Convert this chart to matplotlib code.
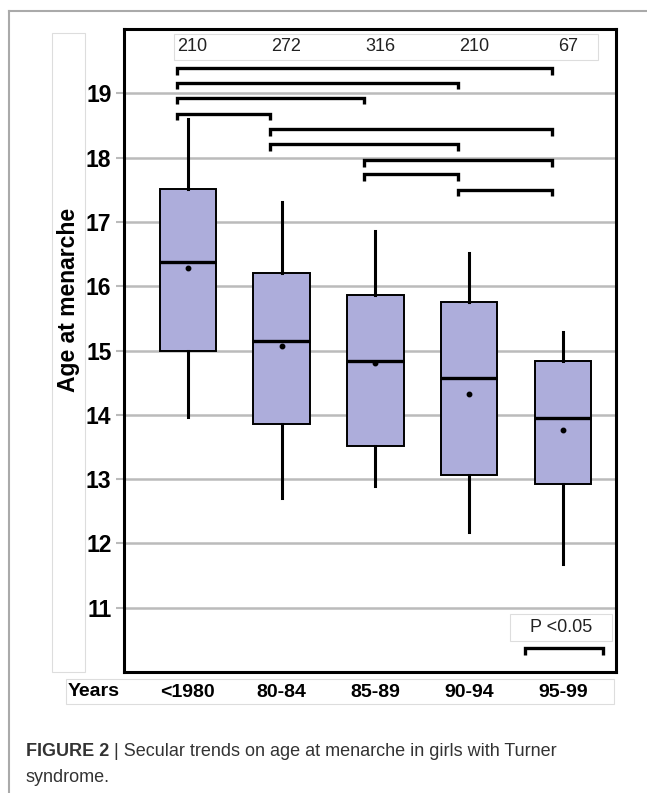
import matplotlib.pyplot as plt
from matplotlib.patches import Rectangle
from matplotlib.lines import Line2D

plt.rcParams["font.family"] = ["Liberation Sans", "DejaVu Sans"]

# data
groups = ["<1980", "80-84", "85-89", "90-94", "95-99"]
counts = [210, 272, 316, 210, 67]
whisker_low = [13.96, 12.70, 12.89, 12.18, 11.68]
q1 = [14.99, 13.85, 13.52, 13.07, 12.92]
medians = [16.38, 15.14, 14.84, 14.58, 13.95]
means = [16.29, 15.07, 14.81, 14.32, 13.76]
q3 = [17.51, 16.21, 15.87, 15.75, 14.83]
whisker_high = [18.60, 17.31, 16.86, 16.51, 15.28]

# significant pairs (1-based group index) and bracket heights
bracket_pairs = [(1, 5), (1, 4), (1, 3), (1, 2), (2, 5), (2, 4), (3, 5), (3, 4), (4, 5)]
bracket_levels = [19.39, 19.16, 18.93, 18.68, 18.44, 18.21, 17.96, 17.74, 17.50]
yticks = [11, 12, 13, 14, 15, 16, 17, 18, 19]

W, H = 647, 793
fig = plt.figure(figsize=(W / 100, H / 100), dpi=100)


def fx(px):
    return px / W


def fy(py):
    return 1 - py / H


ax = fig.add_axes([fx(124), fy(672), fx(616) - fx(124), fy(29) - fy(672)])

positions = list(range(1, len(groups) + 1))
stats = []
for i in range(len(groups)):
    stats.append({
        "whislo": whisker_low[i], "q1": q1[i], "med": medians[i],
        "q3": q3[i], "whishi": whisker_high[i], "mean": means[i],
        "fliers": [],
    })

ax.bxp(
    stats, positions=positions, widths=0.6, patch_artist=True,
    showmeans=True, showcaps=False,
    boxprops=dict(facecolor="#ADADDB", edgecolor="black", linewidth=1.4),
    medianprops=dict(color="black", linewidth=2.4),
    whiskerprops=dict(color="black", linewidth=2.2),
    meanprops=dict(marker="o", markerfacecolor="black", markeredgecolor="black", markersize=3.2),
    zorder=3,
)

# comparison brackets
off = -0.12
tick = 0.1
for (a, b), lvl in zip(bracket_pairs, bracket_levels):
    ax.plot([a + off, a + off, b + off, b + off], [lvl - tick, lvl, lvl, lvl - tick],
            color="black", lw=2.4, solid_capstyle="butt", solid_joinstyle="miter", zorder=4)

# legend bracket for P <0.05
ax.plot([4.60, 4.60, 5.43, 5.43], [10.27, 10.37, 10.37, 10.27], color="black", lw=2.4,
        solid_capstyle="butt", solid_joinstyle="miter", zorder=4)

ax.set_xlim(0.32, 5.565)
ax.set_ylim(10, 20)
ax.set_yticks(yticks)
ax.set_yticklabels([str(t) for t in yticks], fontsize=16.5, fontweight="bold")
ax.tick_params(axis="y", length=6, width=1.5, color="#BBBBBB", pad=3)
ax.set_xticks([])
ax.yaxis.grid(True, color="#BBBBBB", lw=1.8)
ax.set_axisbelow(True)
for sp in ax.spines.values():
    sp.set_linewidth(2.2)
    sp.set_color("black")

# counts row at top
for p, c in zip(positions, counts):
    ax.text(p + 0.05, 19.73, str(c), ha="center", va="center", fontsize=13, color="#222222")
fig.patches.append(Rectangle((fx(174), fy(60)), fx(598) - fx(174), fy(34) - fy(60),
                             transform=fig.transFigure, fill=False, ec="#DDDDDD", lw=0.8))

# P <0.05 label
fig.patches.append(Rectangle((fx(510), fy(641)), fx(612) - fx(510), fy(614) - fy(641),
                             transform=fig.transFigure, fill=False, ec="#DDDDDD", lw=0.8, zorder=5))
fig.text(fx(561), fy(628), "P <0.05", ha="center", va="center", fontsize=13, color="#222222")

# y label with its faint box
fig.patches.append(Rectangle((fx(52), fy(672)), fx(85) - fx(52), fy(33) - fy(672),
                             transform=fig.transFigure, fill=False, ec="#DDDDDD", lw=0.8))
fig.text(fx(68), fy(300), "Age at menarche", rotation=90, ha="center", va="center",
         fontsize=16.5, fontweight="bold")

# x labels row
fig.patches.append(Rectangle((fx(66), fy(704)), fx(614) - fx(66), fy(679) - fy(704),
                             transform=fig.transFigure, fill=False, ec="#DDDDDD", lw=0.8))
fig.text(fx(94), fy(692), "Years", ha="center", va="center", fontsize=14, fontweight="bold")
for p, g in zip(positions, groups):
    ax.text(p, -0.0315, g, transform=ax.get_xaxis_transform(), ha="center", va="center",
            fontsize=14, fontweight="bold")

# outer page border
fig.add_artist(Line2D([fx(9), fx(9)], [0, fy(11)], transform=fig.transFigure, color="#AAAAAA", lw=1.5))
fig.add_artist(Line2D([fx(9), 1], [fy(11), fy(11)], transform=fig.transFigure, color="#AAAAAA", lw=1.5))

# caption
t = fig.text(fx(26), fy(752), "FIGURE 2", ha="left", va="center", fontsize=13,
             fontweight="bold", color="#333333")
fig.canvas.draw()
bb = t.get_window_extent()
fig.text(bb.x1 / W + fx(5), fy(752),
         "| Secular trends on age at menarche in girls with Turner",
         ha="left", va="center", fontsize=13, color="#333333")
fig.text(fx(26), fy(777), "syndrome.", ha="left", va="center", fontsize=13, color="#333333")

fig.savefig("out.png", dpi=100)
